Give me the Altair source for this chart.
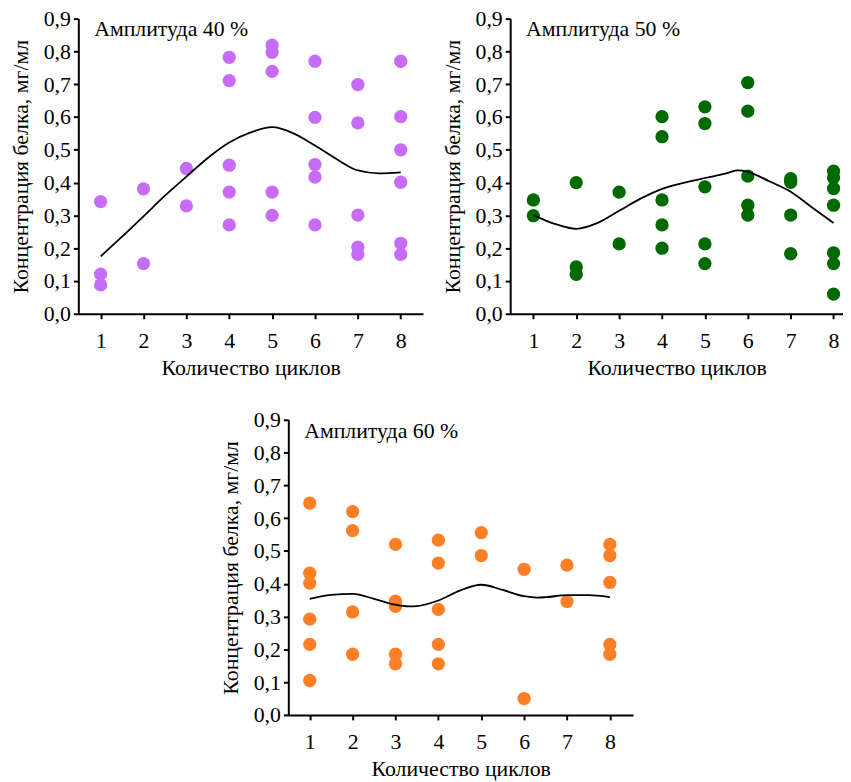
import altair as alt
import pandas as pd

FONT = "Liberation Serif"

# ---- data ----
cycle_ticks = [1, 2, 3, 4, 5, 6, 7, 8]
conc_ticks = [0.0, 0.1, 0.2, 0.3, 0.4, 0.5, 0.6, 0.7, 0.8, 0.9]

a40_cycles = [1, 1, 1, 2, 2, 3, 3, 4, 4, 4, 4, 4, 5, 5, 5, 5, 5,
              6, 6, 6, 6, 6, 7, 7, 7, 7, 7, 8, 8, 8, 8, 8, 8]
a40_conc = [0.342, 0.121, 0.088, 0.381, 0.153, 0.443, 0.329,
            0.782, 0.711, 0.453, 0.371, 0.271,
            0.819, 0.797, 0.739, 0.371, 0.300,
            0.770, 0.599, 0.455, 0.417, 0.271,
            0.699, 0.582, 0.301, 0.203, 0.181,
            0.770, 0.601, 0.500, 0.401, 0.215, 0.181]
t40_x = [1, 1.5, 2, 2.5, 3, 3.5, 4, 4.5, 5, 5.5, 6, 6.5, 7, 7.5, 8]
t40_y = [0.175, 0.235, 0.297, 0.360, 0.418, 0.475, 0.522, 0.553, 0.569,
         0.550, 0.513, 0.472, 0.437, 0.428, 0.431]

a50_cycles = [1, 1, 2, 2, 2, 3, 3, 4, 4, 4, 4, 4, 5, 5, 5, 5, 5,
              6, 6, 6, 6, 6, 7, 7, 7, 7, 8, 8, 8, 8, 8, 8, 8]
a50_conc = [0.347, 0.299, 0.400, 0.143, 0.120, 0.371, 0.213,
            0.601, 0.540, 0.347, 0.271, 0.200,
            0.631, 0.580, 0.387, 0.213, 0.153,
            0.705, 0.618, 0.420, 0.331, 0.301,
            0.412, 0.401, 0.301, 0.183,
            0.435, 0.415, 0.382, 0.331, 0.186, 0.153, 0.060]
t50_x = [1, 1.5, 2, 2.5, 3, 3.5, 4, 4.5, 5, 5.5, 5.75, 6, 6.5, 7, 7.5, 8]
t50_y = [0.301, 0.274, 0.259, 0.277, 0.314, 0.351, 0.381, 0.399, 0.414,
         0.428, 0.437, 0.433, 0.404, 0.372, 0.324, 0.277]

a60_cycles = [1, 1, 1, 1, 1, 1, 2, 2, 2, 2, 3, 3, 3, 3, 3,
              4, 4, 4, 4, 4, 5, 5, 6, 6, 7, 7, 8, 8, 8, 8, 8]
a60_conc = [0.646, 0.432, 0.402, 0.292, 0.215, 0.105,
            0.620, 0.562, 0.314, 0.185,
            0.520, 0.347, 0.331, 0.185, 0.156,
            0.533, 0.463, 0.322, 0.215, 0.156,
            0.556, 0.486, 0.444, 0.050, 0.457, 0.346,
            0.520, 0.486, 0.404, 0.215, 0.185]
t60_x = [1, 1.5, 2, 2.5, 3, 3.3, 3.5, 4, 4.5, 5, 5.5, 6, 6.3, 6.5, 7, 7.5, 8]
t60_y = [0.354, 0.366, 0.369, 0.354, 0.336, 0.331, 0.332, 0.349, 0.379,
         0.397, 0.381, 0.362, 0.358, 0.359, 0.365, 0.365, 0.359]

labels = ["Амплитуда 40 %", "Амплитуда 50 %", "Амплитуда 60 %"]
colors = ["#c76cf6", "#006a00", "#ff7f27"]

X_TITLE = "Количество циклов"
Y_TITLE = "Концентрация белка, мг/мл"

AX = dict(grid=False, domainColor="black", domainWidth=2, tickColor="black",
          tickWidth=2, tickSize=5, labelColor="black", labelFont=FONT,
          labelFontSize=22, labelFlush=False, labelOverlap=False,
          titleColor="black", titleFont=FONT, titleFontSize=22,
          titleFontWeight="normal")


def panel(cycles, conc, tx, ty, color, label, width, xdom):
    pts = pd.DataFrame({"c": cycles, "v": conc, "kind": "pt"})
    tr = pd.DataFrame({"c": tx, "v": ty, "kind": "trend"})
    xs = alt.Scale(domain=xdom, nice=False, zero=False)
    ys = alt.Scale(domain=[0, 0.9], nice=False, zero=False)
    x = alt.X("c:Q", scale=xs,
              axis=alt.Axis(values=cycle_ticks, format="d", title=X_TITLE,
                            labelPadding=12, titlePadding=6, **AX))
    y = alt.Y("v:Q", scale=ys,
              axis=alt.Axis(values=conc_ticks, title=Y_TITLE, labelPadding=3,
                            titlePadding=11, tickCount=10,
                            labelExpr="replace(format(datum.value, '.1f'), '.', ',')",
                            **AX))
    dots = alt.Chart(pts).mark_circle(size=180, opacity=1, color=color).encode(x=x, y=y)
    line = alt.Chart(tr).mark_line(color="black", strokeWidth=1.8,
                                   interpolate="monotone").encode(x=x, y=y)
    txt = alt.Chart(pd.DataFrame({"t": [label]})).mark_text(
        align="left", baseline="alphabetic", font=FONT, fontSize=22, color="black"
    ).encode(x=alt.value(16), y=alt.value(18), text="t:N")
    return alt.layer(dots, line, txt).properties(width=width, height=298)


p1 = panel(a40_cycles, a40_conc, t40_x, t40_y, colors[0], labels[0], 348, [0.48, 8.52])
p2 = panel(a50_cycles, a50_conc, t50_x, t50_y, colors[1], labels[1], 336, [0.46, 8.22])
p3 = panel(a60_cycles, a60_conc, t60_x, t60_y, colors[2], labels[2], 348, [0.5, 8.54])

top = alt.hconcat(p1, p2, spacing=18)
chart = alt.vconcat(top, p3, spacing=31, center=True).properties(
    padding={"left": 1, "top": -4, "right": 0, "bottom": 0}
).configure_view(stroke=None)

chart.save("out.html", embed_options={"renderer": "svg", "actions": False})
